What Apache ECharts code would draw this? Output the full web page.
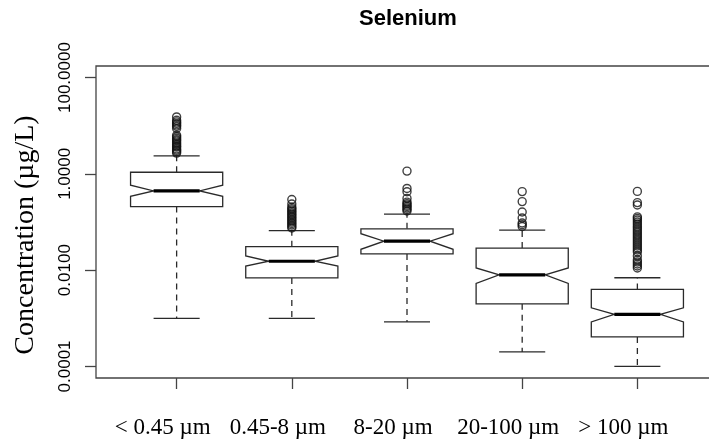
<!DOCTYPE html>
<html>
<head>
<meta charset="utf-8">
<script src="https://cdn.jsdelivr.net/npm/echarts@6/dist/echarts.min.js"></script>
<style>
html,body{margin:0;padding:0;background:#fff;}
#c{width:709px;height:444px;}
</style>
</head>
<body>
<div id="c"></div>
<script>
const categories = ['< 0.45 µm', '0.45-8 µm', '8-20 µm', '20-100 µm', '> 100 µm'];
const yTickValues = [0.0001, 0.01, 1, 100];
const yTickLabels = ['0.0001', '0.0100', '1.0000', '100.0000'];

const whiskerLow  = [0.001,  0.001,  0.00084, 0.0002, 0.0001];
const q1          = [0.209,  0.0069, 0.0217,  0.0020, 0.00041];
const notchLow    = [0.342,  0.0122, 0.0271,  0.0053, 0.00084];
const median      = [0.443,  0.0153, 0.0399,  0.0080, 0.00121];
const notchHigh   = [0.583,  0.0197, 0.0571,  0.0111, 0.00165];
const q3          = [1.08,   0.0307, 0.0721,  0.0288, 0.00398];
const whiskerHigh = [2.36,   0.0665, 0.146,   0.0681, 0.00696];

const outliers1 = [15.2, 13.0, 12.0, 11.2, 10.4, 9.7, 8.8, 6.3, 5.9, 5.5, 5.1, 4.8, 4.4, 4.1, 3.8, 3.6, 3.3, 3.1, 2.9, 2.7];
const outliers2 = [0.294, 0.236, 0.204, 0.19, 0.177, 0.165, 0.153, 0.143, 0.133, 0.124, 0.115, 0.107, 0.0998, 0.093, 0.0865, 0.08, 0.075];
const outliers3 = [1.14, 0.498, 0.424, 0.309, 0.259, 0.24, 0.224, 0.21, 0.195, 0.182, 0.169];
const outliers4 = [0.428, 0.265, 0.161, 0.121, 0.0951, 0.088, 0.0805];
const outliers5 = [0.432, 0.253, 0.225, 0.128, 0.119, 0.110, 0.100, 0.0906, 0.082, 0.0749, 0.068, 0.0619, 0.056, 0.0512, 0.0465, 0.0423, 0.0385, 0.0349, 0.0318, 0.0288, 0.0262, 0.0238, 0.0197, 0.0163, 0.0148, 0.0134, 0.0122, 0.0111];

const allOutliers = [outliers1, outliers2, outliers3, outliers4, outliers5];
const boxData = categories.map((c, i) => [i + 1, whiskerLow[i], q1[i], notchLow[i], median[i], notchHigh[i], q3[i], whiskerHigh[i]]);
const outlierData = [];
allOutliers.forEach((arr, i) => arr.forEach(v => outlierData.push([i + 1, v])));

const lineColor = '#2a2a2a';
const chart = echarts.init(document.getElementById('c'), null, {renderer: 'canvas'});

function renderBox(params, api) {
  const x = api.value(0);
  const wl = api.value(1), b1 = api.value(2), nl = api.value(3), md = api.value(4), nh = api.value(5), b3 = api.value(6), wh = api.value(7);
  const hw = 0.4, nw = 0.2, cw = 0.2;
  const p = (dx, v) => api.coord([x + dx, v]);
  const poly = [p(-hw, b1), p(-hw, nl), p(-nw, md), p(-hw, nh), p(-hw, b3), p(hw, b3), p(hw, nh), p(nw, md), p(hw, nl), p(hw, b1)];
  const solid = {stroke: lineColor, lineWidth: 1.3, fill: null};
  const dashed = {stroke: lineColor, lineWidth: 1.3, lineDash: [6, 5], fill: null};
  const seg = (a, b, style) => ({type: 'line', shape: {x1: a[0], y1: a[1], x2: b[0], y2: b[1]}, style: style});
  return {
    type: 'group',
    children: [
      seg(p(0, b3), p(0, wh), dashed),
      seg(p(0, b1), p(0, wl), dashed),
      seg(p(-cw, wh), p(cw, wh), solid),
      seg(p(-cw, wl), p(cw, wl), solid),
      {type: 'polygon', shape: {points: poly}, style: {stroke: lineColor, lineWidth: 1.3, fill: '#fff'}},
      seg(p(-nw, md), p(nw, md), {stroke: '#000', lineWidth: 3.2})
    ]
  };
}

chart.setOption({
  animation: false,
  backgroundColor: '#fff',
  title: {
    text: 'Selenium',
    left: 359, top: 8, padding: 0,
    textStyle: {fontFamily: 'Liberation Sans', fontWeight: 'bold', fontSize: 22, color: '#000'}
  },
  grid: {
    left: 96, right: -9, top: 66, bottom: 66,
    containLabel: false, outerBoundsMode: 'none',
    show: true, borderColor: '#444', borderWidth: 1.3, backgroundColor: 'transparent'
  },
  xAxis: {
    type: 'value', min: 0.3, max: 5.7,
    splitLine: {show: false},
    axisLine: {show: false},
    axisTick: {show: true, length: 11, customValues: [1, 2, 3, 4, 5], lineStyle: {color: '#444', width: 1.3}},
    axisLabel: {
      customValues: [1, 2, 3, 4, 5],
      formatter: v => categories[Math.round(v) - 1],
      margin: 38,
      padding: [0, 28, 0, 0],
      fontFamily: 'Liberation Serif', fontSize: 23, color: '#000'
    }
  },
  yAxis: {
    type: 'log', logBase: 10,
    min: Math.pow(10, -4.24), max: Math.pow(10, 2.24),
    name: 'Concentration (µg/L)',
    nameLocation: 'middle', nameGap: 56, nameRotate: 90,
    nameTextStyle: {fontFamily: 'Liberation Serif', fontSize: 28, color: '#000', padding: [0, 26, 0, 0]},
    splitLine: {show: false},
    axisLine: {show: false},
    axisTick: {show: true, length: 11, customValues: yTickValues, lineStyle: {color: '#444', width: 1.3}},
    axisLabel: {
      customValues: yTickValues,
      formatter: v => {
        const i = yTickValues.findIndex(t => Math.abs(Math.log10(t) - Math.log10(v)) < 1e-6);
        return i >= 0 ? yTickLabels[i] : '';
      },
      rotate: 90, margin: 22,
      fontFamily: 'Liberation Sans', fontSize: 17, color: '#000'
    }
  },
  series: [
    {
      type: 'custom',
      renderItem: renderBox,
      data: boxData,
      encode: {x: 0, y: [1, 2, 3, 4, 5, 6, 7]},
      z: 2
    },
    {
      type: 'scatter',
      data: outlierData,
      symbol: 'circle', symbolSize: 8,
      itemStyle: {color: 'rgba(255,255,255,0)', borderColor: '#111', borderWidth: 1.4},
      z: 3
    }
  ]
});
</script>
</body>
</html>
